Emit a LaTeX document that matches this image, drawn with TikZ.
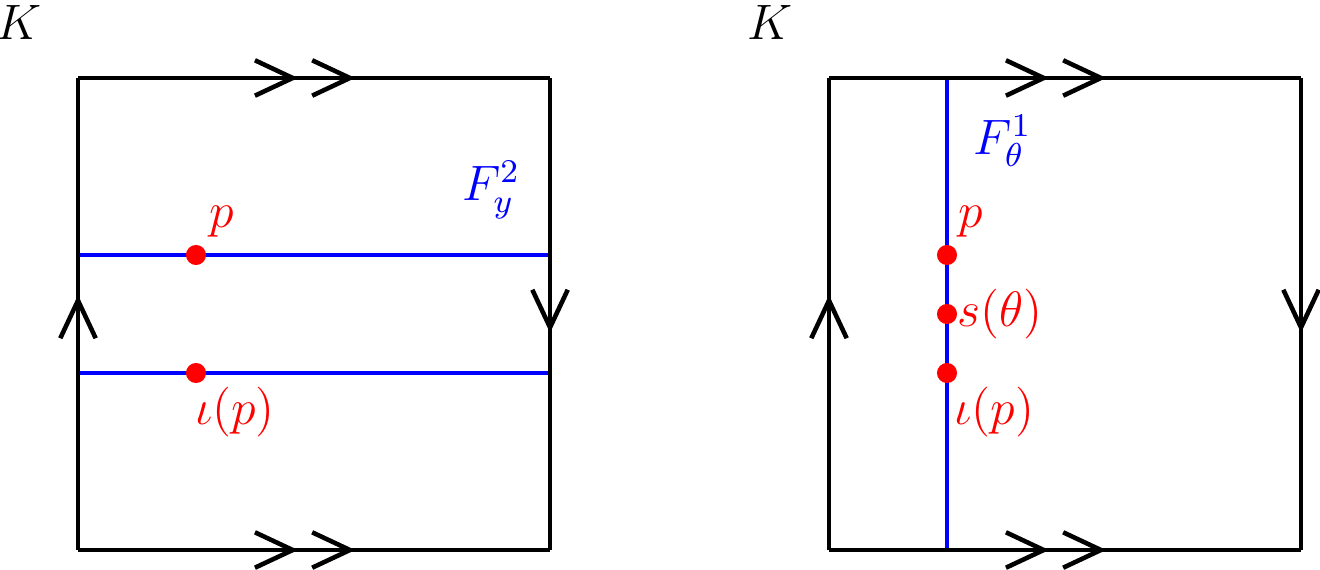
\documentclass[tikz,border=0pt]{standalone}
\usetikzlibrary{arrows.meta,decorations.markings}
\begin{document}
\begin{tikzpicture}
  [line width=1.1pt,
    edge1/.style={postaction={decorate}, decoration={markings,
      mark=at position 0.54 with {\arrow[line width=1.1pt]{Straight Barb[length=3.2mm,width=3mm]}}}},
    edge2/.style={postaction={decorate}, decoration={markings,
      mark=at position 0.5875 with {\arrow[line width=1.1pt]{Straight Barb[length=3.2mm,width=3mm,sep=1mm] Straight Barb[length=3.2mm,width=3mm]}}}},
    fiber/.style={blue, line width=1pt},
    pt/.style={circle, fill=red, inner sep=0pt, minimum size=1.7mm},
    lab/.style={red, font=\large},
  ]
  \useasboundingbox (-0.661,-0.169) rectangle (10.525,4.661);

  % Left square
  \coordinate (a1) at (0,0);
  \coordinate (b1) at (4,0);
  \coordinate (c1) at (4,4);
  \coordinate (d1) at (0,4);
  \draw[fiber] (0,2.5) coordinate (l1) -- (4,2.5) coordinate (r1);
  \draw[fiber] (0,1.5) coordinate (l2) -- (4,1.5) coordinate (r2);
  \draw[edge2] (a1) -- (b1);
  \draw[edge2] (d1) -- (c1);
  \draw[edge1] (a1) -- (d1);
  \draw[edge1] (c1) -- (b1);
  \node[pt] (p1) at (1,2.5) {};
  \node[pt] (q1) at (1,1.5) {};
  \node[lab] (pl1) at (1.22,2.78) {$p$};
  \node[lab] (ql1) at (1.33,1.17) {$\iota(p)$};
  \node[blue, font=\large] (f1) at (3.5,3.05) {$F^2_y$};
  \node[font=\large] (k1) at (-0.5,4.47) {$K$};

  % Right square
  \begin{scope}[xshift=6.364cm]
    \coordinate (a2) at (0,0);
    \coordinate (b2) at (4,0);
    \coordinate (c2) at (4,4);
    \coordinate (d2) at (0,4);
    \draw[fiber] (1,0) coordinate (s2) -- (1,4) coordinate (t2);
    \draw[edge2] (a2) -- (b2);
    \draw[edge2] (d2) -- (c2);
    \draw[edge1] (a2) -- (d2);
    \draw[edge1] (c2) -- (b2);
    \node[pt] (p2) at (1,2.5) {};
    \node[pt] (m2) at (1,2) {};
    \node[pt] (q2) at (1,1.5) {};
    \node[lab] (pl2) at (1.2,2.78) {$p$};
    \node[lab] (ml2) at (1.45,2) {$s(\theta)$};
    \node[lab] (ql2) at (1.4,1.17) {$\iota(p)$};
    \node[blue, font=\large] (f2) at (1.47,3.47) {$F^1_\theta$};
    \node[font=\large] (k2) at (-0.5,4.47) {$K$};
  \end{scope}
\end{tikzpicture}
\end{document}
